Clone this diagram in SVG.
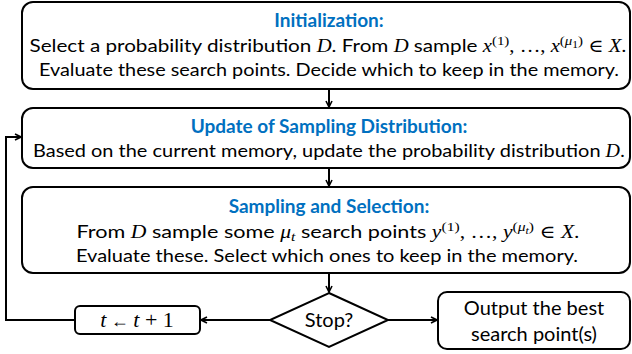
<svg xmlns="http://www.w3.org/2000/svg" width="632" height="354" viewBox="0 0 632 354">
<style>
.box{fill:#fff;stroke:#000;stroke-width:2}
.t{font-family:Lato,"Open Sans","Liberation Sans",sans-serif;font-size:18px;fill:#000;text-anchor:middle}
.b{font-size:20px}
.h{font-family:Lato,"Open Sans","Liberation Sans",sans-serif;font-size:19px;font-weight:bold;fill:#0070C0;text-anchor:middle}
.m{font-family:"Liberation Serif","DejaVu Serif",serif;font-style:italic}
.r{font-family:"Liberation Serif","DejaVu Serif",serif;font-style:normal}
.c{fill:none;stroke:#000;stroke-width:2}
</style>
<defs>
<marker id="a" viewBox="0 0 8 8" refX="7" refY="4" markerWidth="8" markerHeight="8" markerUnits="userSpaceOnUse" orient="auto">
<path d="M1,1 L7,4 L1,7" fill="none" stroke="#000" stroke-width="1.6"/>
</marker>
</defs>
<g id="connectors">
<path class="c" d="M329,89 V107" marker-end="url(#a)"/>
<path class="c" d="M329,168 V186" marker-end="url(#a)"/>
<path class="c" d="M329,273 V292" marker-end="url(#a)"/>
<path class="c" d="M270,320 H201" marker-end="url(#a)"/>
<path class="c" d="M388,320 H437" marker-end="url(#a)"/>
<path class="c" d="M75,320 H6 V137 H21" marker-end="url(#a)"/>
</g>
<g id="init">
<rect class="box" x="22" y="2" width="608" height="87" rx="11"/>
<text class="h" x="329" y="27">Initialization:</text>
<text class="t" x="328" y="52" textLength="597" lengthAdjust="spacingAndGlyphs">Select a probability distribution <tspan class="m">D</tspan>. From <tspan class="m">D</tspan> sample <tspan class="m">x</tspan><tspan class="r" font-size="13" dy="-7">(1)</tspan><tspan class="r" dy="7">, …, </tspan><tspan class="m">x</tspan><tspan class="r" font-size="13" dy="-7">(</tspan><tspan class="m" font-size="13">μ</tspan><tspan class="r" font-size="10" dy="3">1</tspan><tspan class="r" font-size="13" dy="-3">)</tspan><tspan class="r" dy="7"> ∈ </tspan><tspan class="m">X</tspan><tspan class="r">.</tspan></text>
<text class="t" x="329" y="76" textLength="580" lengthAdjust="spacingAndGlyphs">Evaluate these search points. Decide which to keep in the memory.</text>
</g>
<g id="update">
<rect class="box" x="22" y="108" width="608" height="60" rx="11"/>
<text class="h" x="329" y="133">Update of Sampling Distribution:</text>
<text class="t" x="329" y="157" textLength="592" lengthAdjust="spacingAndGlyphs">Based on the current memory, update the probability distribution <tspan class="m">D</tspan><tspan class="r">.</tspan></text>
</g>
<g id="sampling">
<rect class="box" x="22" y="187" width="608" height="86" rx="11"/>
<text class="h" x="329" y="213">Sampling and Selection:</text>
<text class="t" x="328" y="238" textLength="503" lengthAdjust="spacingAndGlyphs">From <tspan class="m">D</tspan> sample some <tspan class="m">μ</tspan><tspan class="m" font-size="13" dy="3">t</tspan><tspan dy="-3"> search points </tspan><tspan class="m">y</tspan><tspan class="r" font-size="13" dy="-7">(1)</tspan><tspan class="r" dy="7">, …, </tspan><tspan class="m">y</tspan><tspan class="r" font-size="13" dy="-7">(</tspan><tspan class="m" font-size="13">μ</tspan><tspan class="m" font-size="10" dy="3">t</tspan><tspan class="r" font-size="13" dy="-3">)</tspan><tspan class="r" dy="7"> ∈ </tspan><tspan class="m">X</tspan><tspan class="r">.</tspan></text>
<text class="t" x="327" y="262" textLength="502" lengthAdjust="spacingAndGlyphs">Evaluate these. Select which ones to keep in the memory.</text>
</g>
<g id="stop">
<polygon class="box" points="329,293 388,320 329,347 270,320"/>
<text class="t b" x="329" y="327">Stop?</text>
</g>
<g id="increment">
<rect class="box" x="75" y="306" width="125" height="28" rx="5"/>
<text class="t" x="137" y="327" style="font-size:22px"><tspan class="m">t</tspan><tspan class="r" font-size="18"> ← </tspan><tspan class="m">t</tspan><tspan class="r"> + 1</tspan></text>
</g>
<g id="output">
<rect class="box" x="438" y="292" width="192" height="57" rx="9"/>
<text class="t b" x="534" y="315">Output the best</text>
<text class="t b" x="534" y="341">search point(s)</text>
</g>
</svg>
